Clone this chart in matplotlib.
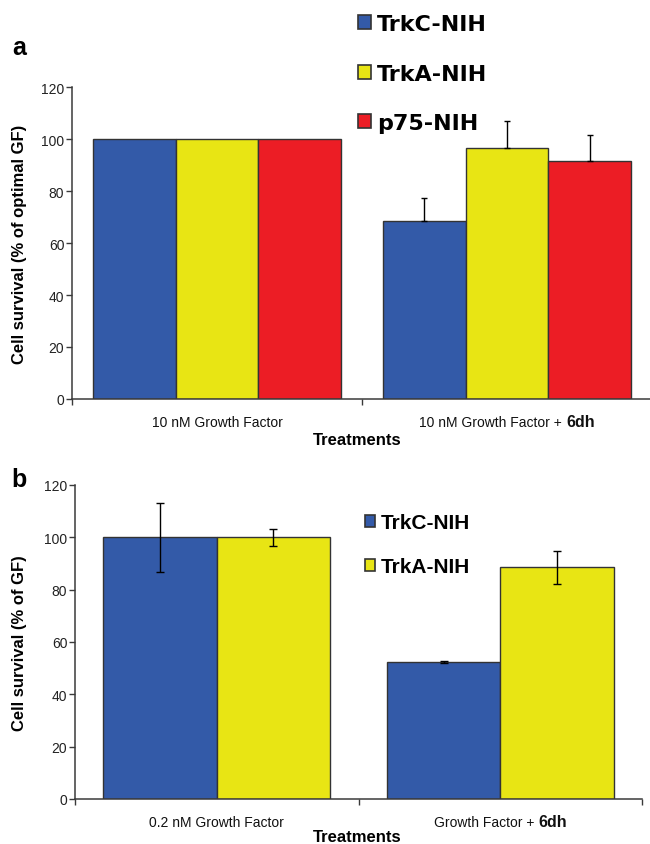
import matplotlib
matplotlib.use("Agg")
import matplotlib.pyplot as plt
from matplotlib.patches import Patch
from matplotlib.transforms import blended_transform_factory, offset_copy
import numpy as np

# ---------------- data ----------------
series_a = ["TrkC-NIH", "TrkA-NIH", "p75-NIH"]
cats_a = ["10 nM Growth Factor", "10 nM Growth Factor + "]
cats_a_bold = ["", "6dh"]
vals_a = {
    "TrkC-NIH": [100, 68.6],
    "TrkA-NIH": [100, 96.6],
    "p75-NIH": [100, 91.4],
}
err_a = {  # upward only
    "TrkC-NIH": [0, 8.6],
    "TrkA-NIH": [0, 10.2],
    "p75-NIH": [0, 10.3],
}

series_b = ["TrkC-NIH", "TrkA-NIH"]
cats_b = ["0.2 nM Growth Factor", "Growth Factor + "]
cats_b_bold = ["", "6dh"]
vals_b = {
    "TrkC-NIH": [100, 52.3],
    "TrkA-NIH": [100, 88.5],
}
err_b = {
    "TrkC-NIH": [13.3, 0.3],
    "TrkA-NIH": [3.3, 6.2],
}

yticks = [0, 20, 40, 60, 80, 100, 120]
colors = {"TrkC-NIH": "#335AA8", "TrkA-NIH": "#E8E514", "p75-NIH": "#EC1D25"}
EDGE = "#333333"
SPINE = "#3a3a3a"

W, H = 650, 845
fig = plt.figure(figsize=(W / 100, H / 100), dpi=100)


def fbox(l, t, r, b):
    return [l / W, 1 - b / H, (r - l) / W, (b - t) / H]


ax_a = fig.add_axes(fbox(72, 88, 652, 400))
ax_b = fig.add_axes(fbox(75, 486, 642, 800))

REG = "Liberation Sans"


def style_axes(ax):
    ax.set_ylim(0, 120)
    ax.set_xlim(0, 2)
    ax.set_yticks(yticks)
    ax.set_yticklabels([str(v) for v in yticks], fontsize=10, family=REG, color="#222222")
    ax.set_xticks([0, 1, 2])
    ax.set_xticklabels(["", "", ""])
    ax.tick_params(axis="both", direction="out", length=4, width=1, color=SPINE, pad=1.5)
    for s in ["top", "right"]:
        ax.spines[s].set_visible(False)
    for s in ["left", "bottom"]:
        ax.spines[s].set_color(SPINE)
        ax.spines[s].set_linewidth(1.1)


def draw_bars(ax, series, vals, errs, width, cap, onesided):
    n = len(series)
    for j, s in enumerate(series):
        x = np.arange(len(vals[s])) + 0.5 + (j - (n - 1) / 2) * width
        ax.bar(x, vals[s], width=width, color=colors[s], edgecolor=EDGE,
               linewidth=1.0, zorder=2)
        if onesided:
            mask = np.array(errs[s]) > 0
            ax.errorbar(x[mask], np.array(vals[s])[mask],
                        yerr=[np.zeros(mask.sum()), np.array(errs[s])[mask]],
                        fmt="none", ecolor="black", elinewidth=1.0,
                        capsize=cap, capthick=1.0, zorder=3)
        else:
            ax.errorbar(x, vals[s], yerr=errs[s], fmt="none", ecolor="black",
                        elinewidth=1.0, capsize=cap, capthick=1.0, zorder=3)


def cat_labels(ax, cats, bolds, yfrac):
    trans = blended_transform_factory(ax.transData, ax.transAxes)
    items = []
    for i, (c, b) in enumerate(zip(cats, bolds)):
        t1 = ax.text(i + 0.5, yfrac, c, transform=trans, ha="left", va="baseline",
                     fontsize=10, family=REG, color="#111111")
        t2 = None
        if b:
            t2 = ax.text(i + 0.5, yfrac, b, transform=trans, ha="left", va="baseline",
                         fontsize=11.5, family=REG, weight="bold", color="#111111")
        items.append((i, t1, t2))
    return items


style_axes(ax_a)
style_axes(ax_b)
draw_bars(ax_a, series_a, vals_a, err_a, 2 / 7, 2.3, True)
draw_bars(ax_b, series_b, vals_b, err_b, 0.4, 2.6, False)

items = cat_labels(ax_a, cats_a, cats_a_bold, -27 / 312) + \
        cat_labels(ax_b, cats_b, cats_b_bold, -27 / 314)

# axis labels
ax_a.set_ylabel("Cell survival (% of optimal GF)", fontsize=12, family=REG, weight="bold")
ax_a.yaxis.label.set_va("center")
ax_a.yaxis.set_label_coords((20 - 72) / 580, 0.5)
ax_a.set_xlabel("Treatments", fontsize=12, family=REG, weight="bold")
ax_a.xaxis.label.set_va("center")
ax_a.xaxis.set_label_coords((357 - 72) / 580, -(441 - 400) / 312)

ax_b.set_ylabel("Cell survival (% of GF)", fontsize=12, family=REG, weight="bold")
ax_b.yaxis.label.set_va("center")
ax_b.yaxis.set_label_coords((20 - 75) / 567, 0.5)
ax_b.set_xlabel("Treatments", fontsize=12, family=REG, weight="bold")
ax_b.xaxis.label.set_va("center")
ax_b.xaxis.set_label_coords((357 - 75) / 567, -(838 - 800) / 314)

# panel letters
fig.text(19 / W, 1 - 48 / H, "a", fontsize=18, family=REG, weight="bold", ha="center", va="center")
fig.text(19 / W, 1 - 480 / H, "b", fontsize=18, family=REG, weight="bold", ha="center", va="center")

# legends
h_a = [Patch(facecolor=colors[s], edgecolor=EDGE, linewidth=1.2) for s in series_a]
fig.legend(h_a, series_a, loc="upper left", bbox_to_anchor=(358 / W, 1 - 15 / H),
           frameon=False, borderpad=0, borderaxespad=0, handlelength=0.6,
           handleheight=0.6, handletextpad=0.25, labelspacing=1.33,
           prop=dict(family="DejaVu Sans", weight="bold", size=16))
h_b = [Patch(facecolor=colors[s], edgecolor=EDGE, linewidth=1.2) for s in series_b]
fig.legend(h_b, series_b, loc="upper left", bbox_to_anchor=(365 / W, 1 - 514 / H),
           frameon=False, borderpad=0, borderaxespad=0, handlelength=0.5,
           handleheight=0.5, handletextpad=0.25, labelspacing=1.2,
           prop=dict(family=REG, weight="bold", size=15))

# center the two-part category labels
fig.canvas.draw()
r = fig.canvas.get_renderer()
for i, t1, t2 in items:
    w1 = t1.get_window_extent(r).width
    w2 = t2.get_window_extent(r).width if t2 is not None else 0
    tot = w1 + w2
    base = t1.get_transform()
    t1.set_transform(offset_copy(base, fig=fig, x=-tot / 2, y=0, units="dots"))
    if t2 is not None:
        t2.set_transform(offset_copy(base, fig=fig, x=-tot / 2 + w1, y=0, units="dots"))

fig.savefig("out.png", dpi=100)
